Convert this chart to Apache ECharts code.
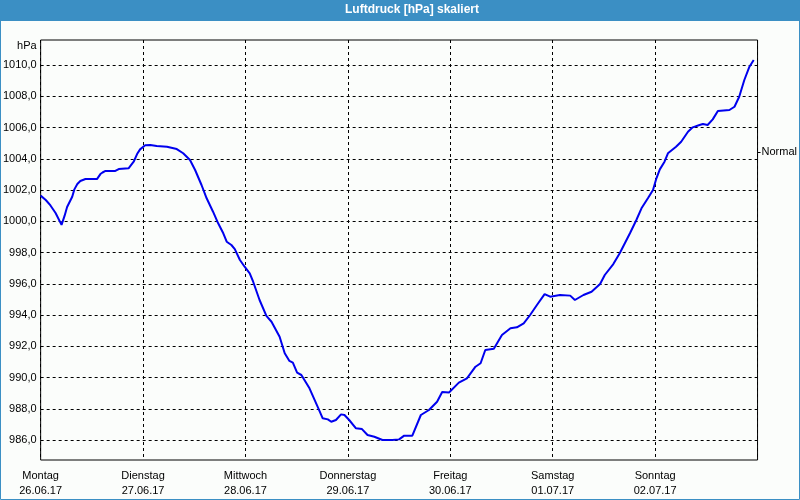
<!DOCTYPE html>
<html>
<head>
<meta charset="utf-8">
<script src="https://cdn.jsdelivr.net/npm/echarts@6/dist/echarts.min.js"></script>
<style>
html,body{margin:0;padding:0;background:#fbfdfb;}
#c{width:800px;height:500px;}
</style>
</head>
<body>
<div id="c"></div>
<script>
// Time since Monday 26.06.17 00:00, in hours
const hours = [0,1.2,2.3,3.5,4.9,5.6,6.2,7.4,7.9,8.6,9.3,10.5,13.2,14.0,14.5,15.2,17.5,18.3,20.6,21.8,22.6,23.3,24.5,25.7,27.2,29.6,31.9,33.4,35.0,36.2,37.7,38.9,40.4,41.6,42.8,43.6,44.7,45.5,46.7,47.8,49.0,49.8,51.3,52.9,54.1,56.0,57.2,58.3,59.1,60.1,61.1,63.0,64.9,66.1,67.3,68.1,69.2,70.4,71.2,72.3,73.9,75.3,76.6,78.2,80.1,82.4,84.0,85.2,87.1,89.1,91.0,92.9,94.1,95.7,98.0,99.9,101.9,103.1,104.2,106.2,108.1,110.1,111.6,113.2,114.7,116.3,118.1,119.4,121.7,124.1,125.2,127.2,129.1,131.1,132.2,134.2,135.7,136.9,138.1,139.6,140.8,142.3,143.5,144.3,145.1,146.2,147.0,148.9,150.1,151.7,152.8,154.4,155.2,156.3,157.5,158.7,161.4,162.6,163.7,164.9,166.1,167.1];
// Air pressure in hPa
const pressure = [1001.64,1001.36,1001.01,1000.53,999.77,1000.34,1000.91,1001.57,1002.04,1002.38,1002.58,1002.70,1002.70,1003.02,1003.12,1003.22,1003.22,1003.34,1003.39,1003.81,1004.30,1004.60,1004.86,1004.88,1004.82,1004.77,1004.62,1004.35,1003.92,1003.28,1002.32,1001.47,1000.61,999.87,999.23,998.69,998.48,998.22,997.52,997.09,996.67,996.13,994.96,993.94,993.57,992.61,991.55,991.06,990.95,990.31,990.16,989.31,988.13,987.39,987.32,987.17,987.28,987.64,987.60,987.28,986.75,986.70,986.32,986.21,986.00,986.00,986.04,986.28,986.28,987.60,987.92,988.45,989.07,989.04,989.67,989.95,990.69,990.91,991.76,991.84,992.72,993.15,993.21,993.47,994.00,994.64,995.34,995.17,995.28,995.24,994.96,995.28,995.49,995.98,996.56,997.26,997.95,998.59,999.23,1000.08,1000.83,1001.47,1002.00,1002.75,1003.32,1003.81,1004.35,1004.77,1005.09,1005.73,1006.01,1006.16,1006.22,1006.16,1006.52,1007.06,1007.12,1007.33,1007.97,1009.04,1009.89,1010.32];
const yTicks = [986,988,990,992,994,996,998,1000,1002,1004,1006,1008,1010];
const dayNames = ['Montag','Dienstag','Mittwoch','Donnerstag','Freitag','Samstag','Sonntag'];
const dayDates = ['26.06.17','27.06.17','28.06.17','29.06.17','30.06.17','01.07.17','02.07.17'];
const normalLevel = [1004.43];
const normalLabel = 'Normal';
const titleText = 'Luftdruck [hPa] skaliert';
const yUnit = 'hPa';

const FONT = 'Liberation Sans';
const BLUE = '#3b8fc4';
const chart = echarts.init(document.getElementById('c'));
const dash = {color:'#000', width:1, type:[3,3]};
chart.setOption({
  animation:false,
  backgroundColor:'#fbfdfb',
  title:{
    text:titleText, left:412, top:4, textAlign:'center', padding:0,
    textStyle:{color:'#fff', fontFamily:FONT, fontWeight:'bold', fontSize:12}
  },
  graphic:[
    {type:'rect', z:-10, shape:{x:0,y:0,width:800,height:21}, style:{fill:BLUE}},
    {type:'rect', z:-10, shape:{x:0.5,y:0.5,width:799,height:499}, style:{fill:'none', stroke:BLUE, lineWidth:1}}
  ],
  grid:{left:40, right:40, top:40, bottom:40, show:true, borderColor:'#000', borderWidth:1, backgroundColor:'transparent'},
  xAxis:{
    type:'value', min:0, max:168, interval:24,
    axisLine:{show:false}, axisTick:{show:false},
    splitLine:{show:true, lineStyle:dash},
    axisLabel:{
      show:true, showMaxLabel:false, margin:8, lineHeight:15,
      color:'#000', fontFamily:FONT, fontSize:11,
      formatter:function(v){ const i=Math.round(v/24); return i<dayNames.length ? dayNames[i]+'\n'+dayDates[i] : ''; }
    }
  },
  yAxis:[{
    type:'value', min:984.72, max:1011.6,
    name:yUnit, nameLocation:'end', nameGap:-6,
    nameTextStyle:{color:'#000', fontFamily:FONT, fontSize:11, align:'right', verticalAlign:'middle', padding:[0,4,0,0]},
    axisLine:{show:false},
    axisTick:{show:false, customValues:yTicks},
    splitLine:{show:true, lineStyle:dash},
    axisLabel:{customValues:yTicks, margin:4, color:'#000', fontFamily:FONT, fontSize:11,
      formatter:function(v){ return v.toFixed(1).replace('.',','); }}
  },{
    type:'value', position:'right', min:984.72, max:1011.6,
    axisLine:{show:false},
    axisTick:{show:true, length:3, customValues:normalLevel, lineStyle:{color:'#000'}},
    splitLine:{show:false},
    axisLabel:{customValues:normalLevel, margin:4, color:'#000', fontFamily:FONT, fontSize:11,
      formatter:function(){ return normalLabel; }}
  }],
  series:[{
    type:'line', xAxisIndex:0, yAxisIndex:0,
    data:hours.map((h,i)=>[h, pressure[i]]),
    showSymbol:false, symbol:'none',
    lineStyle:{color:'#0000ee', width:2},
    itemStyle:{color:'#0000ee'}
  }]
});
</script>
</body>
</html>
